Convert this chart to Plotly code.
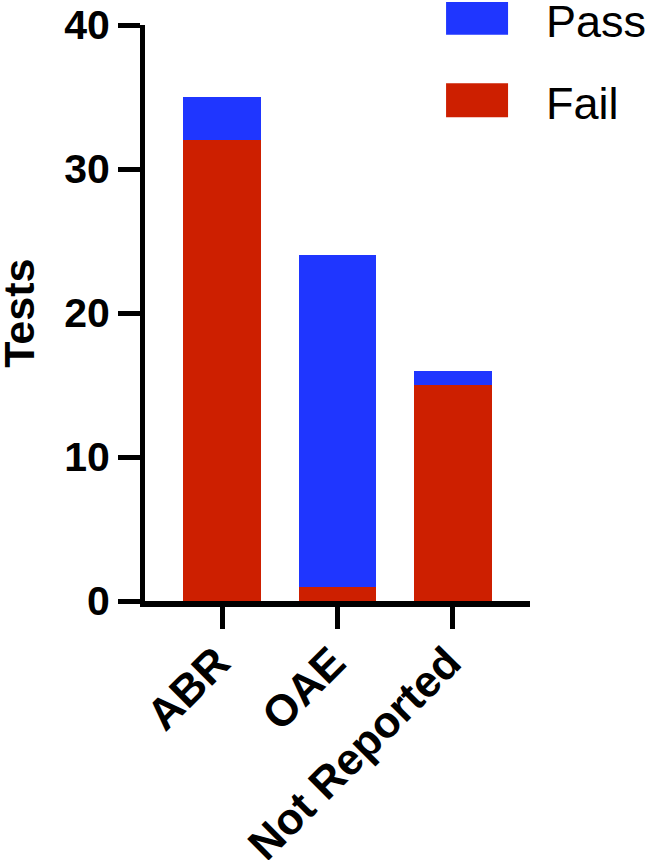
import plotly.graph_objects as go

# data
tests = ['ABR', 'OAE', 'Not Reported']
fail = [32, 1, 15]
passed = [3, 23, 1]

red = '#cd1f00'
blue = '#1f36ff'
font = 'Arial, Liberation Sans, sans-serif'

fig = go.Figure()
fig.add_trace(go.Bar(x=tests, y=fail, name='Fail', marker=dict(color=red, line_width=0)))
fig.add_trace(go.Bar(x=tests, y=passed, name='Pass', marker=dict(color=blue, line_width=0)))

# hand-drawn legend, big squares like the original
legend_items = [('Pass', blue, 0.983, 1.040), ('Fail', red, 0.840, 0.899)]
shapes = []
annotations = []
for name, col, y0, y1 in legend_items:
    shapes.append(dict(type='rect', xref='paper', yref='paper', x0=0.782, x1=0.943,
                       y0=y0, y1=y1, fillcolor=col, line_width=0))
    annotations.append(dict(text=name, xref='paper', yref='paper', x=1.036, y=(y0 + y1) / 2 - 0.006,
                            xanchor='left', yanchor='middle', showarrow=False,
                            font=dict(size=45, color='black', family=font)))

annotations.append(dict(text='<b>Tests</b>', xref='paper', yref='paper', x=-0.328, y=0.5,
                        textangle=-90, showarrow=False, xanchor='center', yanchor='middle',
                        font=dict(size=43, color='black', family=font)))

fig.update_layout(
    barmode='stack',
    bargap=0.325,
    width=646,
    height=860,
    margin=dict(l=145, r=116, t=25, b=259),
    paper_bgcolor='white',
    plot_bgcolor='white',
    showlegend=False,
    font=dict(family=font, color='black'),
    shapes=shapes,
    annotations=annotations,
    xaxis=dict(
        range=[-0.667, 2.667],
        automargin=False,
        showline=True, linewidth=6, linecolor='black',
        ticks='outside', ticklen=22, tickwidth=5, tickcolor='black',
        tickangle=-45,
        ticklabelstandoff=-10, ticklabelshift=-5,
        tickfont=dict(size=44, family=font, weight='bold'),
        showgrid=False, zeroline=False,
    ),
    yaxis=dict(
        range=[0, 40],
        automargin=False,
        tickvals=[0, 10, 20, 30, 40],
        ticklabeloverflow='allow',
        showline=True, linewidth=5, linecolor='black',
        ticks='outside', ticklen=22, tickwidth=5, tickcolor='black',
        tickfont=dict(size=41, family=font, weight='bold'),
        showgrid=False, zeroline=False,
    ),
)

# drop the default 8px body margin so the figure sits at the page corner
fig.write_html('out.html', config={'displayModeBar': False},
               post_script="document.body.style.margin='0';")
